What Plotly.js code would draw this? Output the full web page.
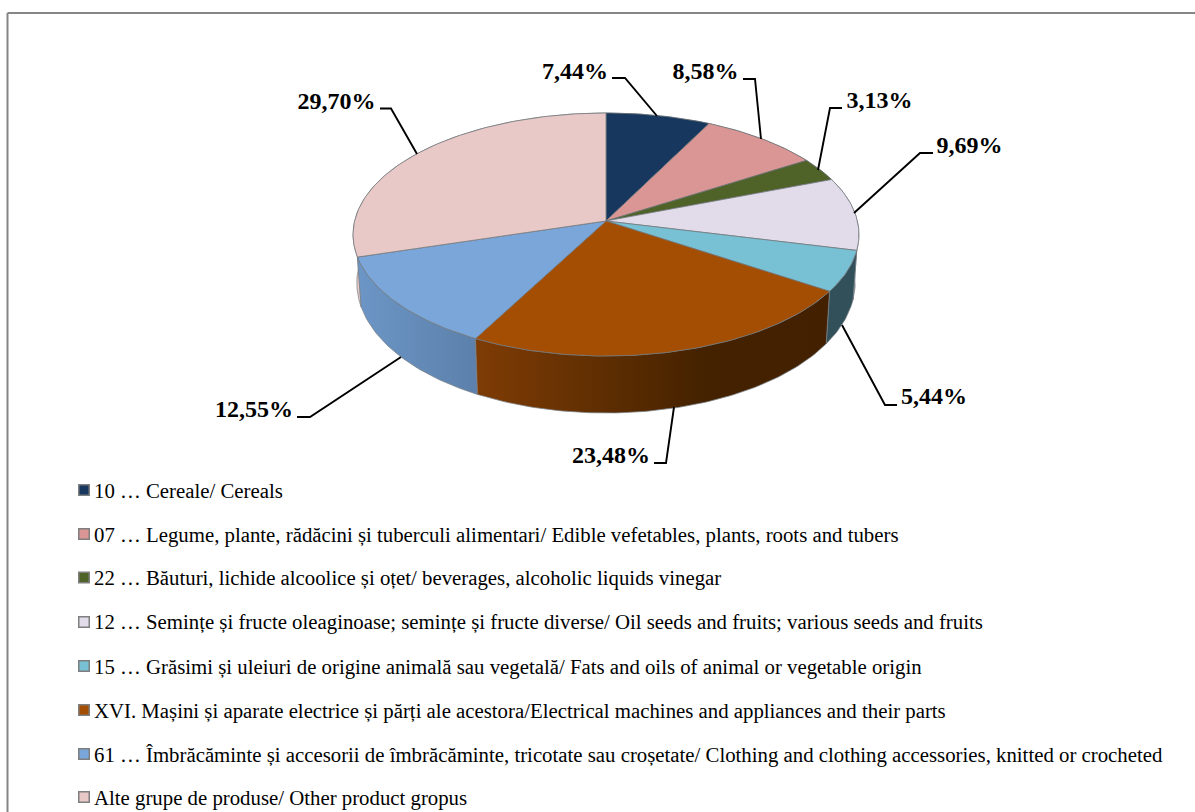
<!DOCTYPE html>
<html>
<head>
<meta charset="utf-8">
<script src="https://cdn.plot.ly/plotly-3.0.1.min.js"></script>
<style>html,body{margin:0;padding:0;background:#fff}#chart{width:1195px;height:812px}</style>
</head>
<body>
<div id="chart"></div>
<script>
// ---- data ----
var categories = [
  "10 … Cereale/ Cereals",
  "07 … Legume, plante, rădăcini și tuberculi alimentari/ Edible vefetables, plants, roots and tubers",
  "22 … Băuturi, lichide alcoolice și oțet/ beverages, alcoholic liquids vinegar",
  "12 … Semințe și fructe oleaginoase; semințe și fructe diverse/ Oil seeds and fruits; various seeds and fruits",
  "15 … Grăsimi și uleiuri de origine animală sau vegetală/ Fats and oils of animal or vegetable origin",
  "XVI. Mașini și aparate electrice și părți ale acestora/Electrical machines and appliances and their parts",
  "61 … Îmbrăcăminte și accesorii de îmbrăcăminte, tricotate sau croșetate/ Clothing and clothing accessories, knitted or crocheted",
  "Alte grupe de produse/ Other product gropus"
];
var shares = [7.44, 8.58, 3.13, 9.69, 5.44, 23.48, 12.55, 29.70];
var faceColors = ["#17375e", "#d99694", "#4f6228", "#e2dcea", "#78c0d4", "#a44e04", "#7ba6da", "#e8c9c7"];
var wallShades = [
  [[0, "#10274a"], [1, "#10274a"]],
  [[0, "#a06e6c"], [1, "#a06e6c"]],
  [[0, "#3a481e"], [1, "#3a481e"]],
  [[0, "#a8a3ad"], [1, "#a8a3ad"]],
  [[0, "#31505a"], [1, "#31505a"]],
  [[0, "#7f3c05"], [0.5, "#522800"], [0.65, "#442200"], [1, "#432100"]],
  [[0, "#6c96c6"], [1, "#5c80ab"]],
  [[0, "#e8c9c7"], [1, "#e8c9c7"]]
];

// ---- layout geometry (pixel-like axes) ----
var W = 1195, H = 812;
var cx = 606, cy = 221, Rx = 251.4, Ry = 120, persp = 0.111;
var wallBase = 47, wallTilt = 10, baseScale = 0.985;
var labelXY = [[575,73],[705.5,73],[879.5,102],[969.5,147],[934,398],[611,457],[254,411],[336.5,103]];
var leaderX = [[612,625,657],[743,755,761],[842,830,818],[933,920,854],[897,885,842],[654,666,674],[297,310,401],[380,391,417]];
var leaderY = [[78,78,116],[79,79,139],[108,108,170],[153,153,213],[405,405,325],[463,463,407],[417,417,357],[108.5,108.5,154]];
var legendMarkerX = 84, legendTextX = 94;
var legendMarkerY = [490, 534, 577.5, 622, 666, 710, 754, 797];
var legendTextY = [492.5, 536.5, 580, 624, 668.5, 712.5, 756.5, 799.5];

function project(angleDeg, base) {
  var a = angleDeg * Math.PI / 180, u = Math.sin(a), v = Math.cos(a);
  var w = 1 / (1 + persp * v);
  var x = Rx * u * w, y = cy - Ry * v * w;
  if (base) return [cx + baseScale * x, y + wallBase - wallTilt * v];
  return [cx + x, y];
}
function arc(a0, a1, base) {
  var n = Math.max(2, Math.ceil(Math.abs(a1 - a0))), pts = [];
  for (var i = 0; i <= n; i++) pts.push(project(a0 + (a1 - a0) * i / n, base));
  return pts;
}

var total = shares.reduce(function (a, b) { return a + b; }, 0);
var startAngle = [], acc = 0;
shares.forEach(function (s) { startAngle.push(acc / total * 360); acc += s; });
function endAngle(i) { return startAngle[i] + shares[i] / total * 360; }

var traces = [];
// walls, back to front
[7, 0, 1, 2, 3, 4, 6, 5].forEach(function (i) {
  var top = arc(startAngle[i], endAngle(i), false);
  var bot = arc(endAngle(i), startAngle[i], true);
  var pts = top.concat(bot); pts.push(top[0]);
  traces.push({
    type: "scatter", mode: "lines", name: categories[i] + " (side)",
    x: pts.map(function (p) { return p[0]; }), y: pts.map(function (p) { return p[1]; }),
    fill: "toself", fillcolor: wallShades[i][0][1],
    fillgradient: {type: "horizontal", colorscale: wallShades[i]},
    line: {color: "#7a8288", width: 0.75},
    hoverinfo: "skip", showlegend: false
  });
});
// top faces
shares.forEach(function (s, i) {
  var pts = [[cx, cy]].concat(arc(startAngle[i], endAngle(i), false));
  pts.push([cx, cy]);
  traces.push({
    type: "scatter", mode: "lines", name: categories[i],
    x: pts.map(function (p) { return p[0]; }), y: pts.map(function (p) { return p[1]; }),
    fill: "toself", fillcolor: faceColors[i],
    line: {color: "#6f757a", width: 0.75},
    text: s.toFixed(2).replace(".", ",") + "%", hoverinfo: "name+text", showlegend: false
  });
});
// leader lines
shares.forEach(function (s, i) {
  traces.push({
    type: "scatter", mode: "lines", x: leaderX[i], y: leaderY[i],
    line: {color: "#000", width: 1.9}, hoverinfo: "skip", showlegend: false
  });
});
// data labels
traces.push({
  type: "scatter", mode: "text",
  x: labelXY.map(function (p) { return p[0]; }), y: labelXY.map(function (p) { return p[1]; }),
  text: shares.map(function (s) { return "<b>" + s.toFixed(2).replace(".", ",") + "%</b>"; }),
  textposition: "middle center",
  textfont: {family: "Liberation Serif", size: 24, color: "#000"},
  hoverinfo: "skip", showlegend: false
});
// legend
traces.push({
  type: "scatter", mode: "markers",
  x: categories.map(function () { return legendMarkerX; }), y: legendMarkerY,
  marker: {symbol: "square", size: 10.5, color: faceColors, line: {color: "#7f7f7f", width: 1.5}},
  hoverinfo: "skip", showlegend: false
});
traces.push({
  type: "scatter", mode: "text",
  x: categories.map(function () { return legendTextX; }), y: legendTextY,
  text: categories, textposition: "middle right",
  textfont: {family: "Liberation Serif", size: 20.8, color: "#000"},
  hoverinfo: "skip", showlegend: false
});

var layout = {
  width: W, height: H,
  margin: {l: 0, r: 0, t: 0, b: 0},
  paper_bgcolor: "#fff", plot_bgcolor: "#fff",
  xaxis: {range: [0, W], visible: false, fixedrange: true},
  yaxis: {range: [H, 0], visible: false, fixedrange: true},
  showlegend: false,
  shapes: [
    {type: "line", xref: "x", yref: "y", x0: 7.5, x1: W, y0: 13, y1: 13, line: {color: "#868686", width: 2}, layer: "below"},
    {type: "line", xref: "x", yref: "y", x0: 7.5, x1: 7.5, y0: 13, y1: H, line: {color: "#868686", width: 2}, layer: "below"}
  ]
};
Plotly.newPlot("chart", traces, layout, {displayModeBar: false, responsive: false});
</script>
</body>
</html>
